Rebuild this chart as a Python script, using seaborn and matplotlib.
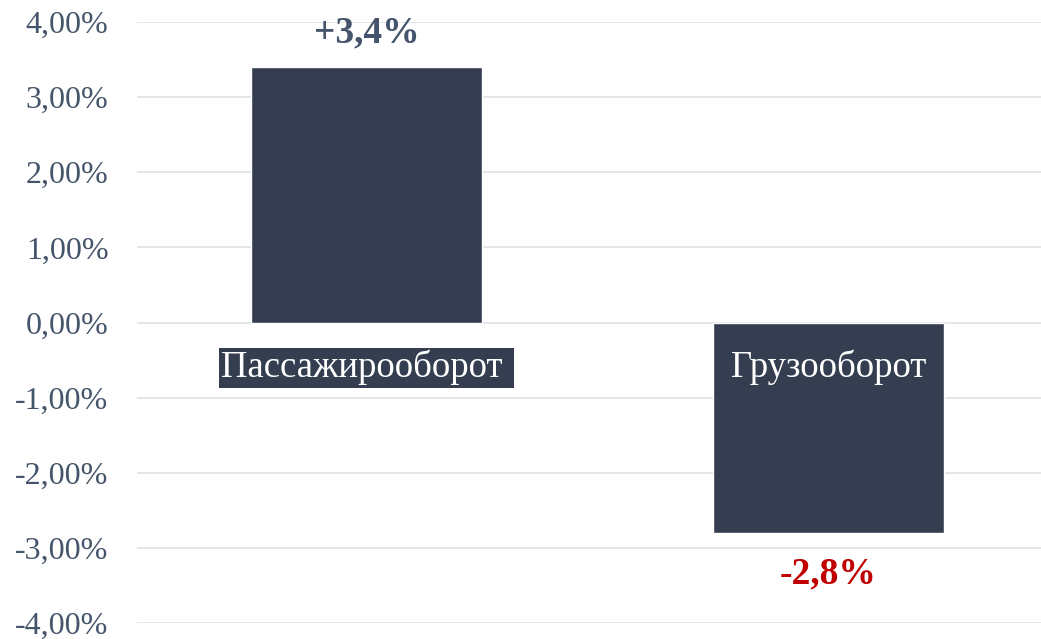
import pandas as pd
import matplotlib.pyplot as plt
import seaborn as sns
from matplotlib.ticker import FuncFormatter

# данные
categories = ['Пассажирооборот', 'Грузооборот']
values = [3.4, -2.8]
value_labels = ['+3,4%', '-2,8%']
label_colors = ['#44546A', '#C00000']
y_ticks = [-4, -3, -2, -1, 0, 1, 2, 3, 4]

bar_color = '#343E50'
text_color = '#44546A'

sns.set_theme(style='white')
plt.rcParams['font.family'] = ['Liberation Serif', 'DejaVu Serif']

df = pd.DataFrame({'Category': categories, 'Value': values})

fig = plt.figure(figsize=(10.41, 6.39), dpi=100)
ax = fig.add_axes([137 / 1041, 16 / 639, 904 / 1041, 601 / 639])

sns.barplot(data=df, x='Category', y='Value', color=bar_color, width=0.5,
            saturation=1, ax=ax, zorder=3)

ax.set_ylim(-4, 4)
ax.set_xlim(-0.498, 1.461)
ax.set_yticks(y_ticks)
ax.yaxis.set_major_formatter(FuncFormatter(lambda v, p: f'{v:.2f}%'.replace('.', ',')))
ax.tick_params(axis='y', labelsize=23, colors=text_color, length=0, pad=20.5)
ax.set_xticks([])
ax.set_xlabel('')
ax.set_ylabel('')
ax.grid(axis='y', color='#E1E4E9', linewidth=1.3, zorder=0)
for s in ax.spines.values():
    s.set_visible(False)

# подписи категорий внутри / под столбцами
for i, cat in enumerate(categories):
    if values[i] > 0:
        ax.text(i, -0.6, cat + ' ', ha='center', va='center', fontsize=26.5, color='white',
                bbox=dict(facecolor=bar_color, edgecolor='none', pad=1.5), zorder=5)
    else:
        ax.text(i, -0.6, cat, ha='center', va='center', fontsize=26.5, color='white', zorder=5)

# значения
for i, (v, lab, c) in enumerate(zip(values, value_labels, label_colors)):
    off = 0.45 if v > 0 else -0.55
    ax.text(i, v + off, lab, ha='center', va='center', fontsize=27,
            fontweight='bold', color=c, zorder=5)

fig.savefig('out.png', dpi=100)
